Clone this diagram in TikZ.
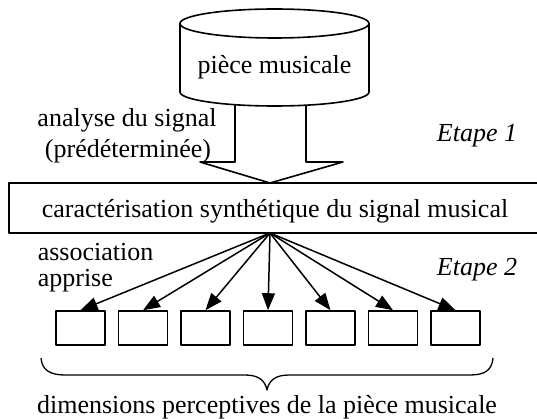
\documentclass[tikz,border=0pt]{standalone}
\usepackage{fontspec}
\setmainfont{Liberation Serif}
\usetikzlibrary{arrows.meta}
\begin{document}
\begin{tikzpicture}[x=1pt,y=-1pt, line width=1.6pt, line join=round,
  lbl/.style={font=\fontsize{26}{30}\selectfont, inner sep=0pt},
  lbli/.style={font=\fontsize{26}{30}\selectfont\itshape, inner sep=0pt},
  dimbox/.style={draw, minimum width=49pt, minimum height=34pt, inner sep=0pt},
  arr/.style={-{Triangle[length=17pt,width=13pt]}, line width=1.5pt}]
\useasboundingbox (0,0) rectangle (537,419);
% block arrow
\draw[fill=white] (235,95) -- (235,162) -- (200,162) -- (270,183) -- (343,162) -- (306,162) -- (306,95);
% cylinder
\fill[white] (180,23.5) -- (180,92) arc[start angle=180,end angle=0,x radius=94.5,y radius=14] -- (369,23.5) -- cycle;
\draw (180,23.5) -- (180,92) arc[start angle=180,end angle=0,x radius=94.5,y radius=14] -- (369,23.5);
\draw[fill=white] (274.5,23.5) ellipse[x radius=94.5,y radius=14.5];
\node[lbl] (piece) at (274.5,67) {pièce musicale};
% labels step 1
\node[lbl, anchor=base] (ana) at (127,127) {analyse du signal};
\node[lbl, anchor=base] (pre) at (128,158) {(prédéterminée)};
\node[lbli, anchor=base] (e1) at (477,142) {Etape 1};
% main box
\node[draw, minimum width=536pt, minimum height=50pt, inner sep=0pt] (main) at (277,208) {};
\node[lbl, anchor=base] (cap) at (275,218) {caractérisation synthétique du signal musical};
\coordinate (src) at (270,233);
\node[lbl, anchor=base west] (assoc) at (37,260) {association};
\node[lbl, anchor=base west] (appr) at (37,286) {apprise};
\node[lbli, anchor=base] (e2) at (477,275) {Etape 2};
% dimension boxes
\foreach \i/\x in {1/80.5,2/143,3/205.5,4/268,5/330.5,6/393,7/455.5}{
  \node[dimbox] (d\i) at (\x,328) {};
  \draw[arr] (src) -- (d\i.north);
}
% brace
\draw[line width=1.3pt] (41,358) .. controls (42,370) and (50,375) .. (65,375) -- (245,375) .. controls (258,375) and (265,380) .. (267,390) .. controls (269,380) and (276,375) .. (289,375) -- (470,375) .. controls (485,375) and (492,370) .. (493,358);
\node[lbl, anchor=base] (dim) at (267,413) {dimensions perceptives de la pièce musicale};
\end{tikzpicture}
\end{document}
